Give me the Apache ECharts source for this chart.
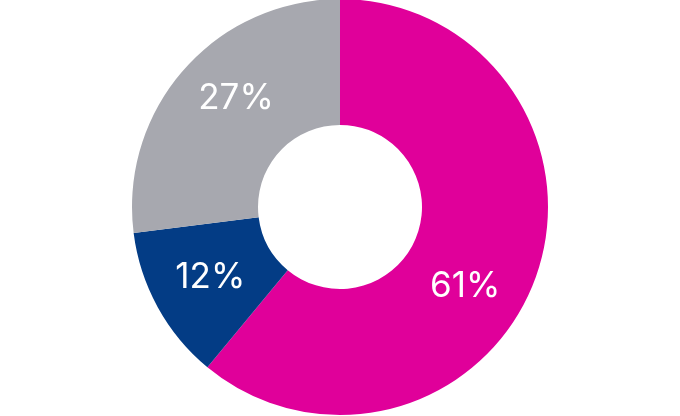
<!DOCTYPE html>
<html>
<head>
<meta charset="utf-8">
<script src="https://cdn.jsdelivr.net/npm/echarts@6/dist/echarts.min.js"></script>
<style>html,body{margin:0;padding:0;background:#fff;}#c{width:680px;height:416px;}</style>
</head>
<body>
<div id="c"></div>
<script>
const categories = ['A', 'B', 'C'];
const values = [61, 12, 27];
const colors = ['#E0009A', '#033C85', '#A7A8AF'];
const labelOffsets = [[-14, 29], [0, -1], [7, -11]];

const chart = echarts.init(document.getElementById('c'));
chart.setOption({
  animation: false,
  series: [{
    type: 'pie',
    center: [340, 207],
    radius: [82, 208],
    startAngle: 90,
    clockwise: true,
    avoidLabelOverlap: false,
    label: {
      show: true,
      position: 'inside',
      color: '#fff',
      fontFamily: 'Inter',
      fontSize: 35,
      fontWeight: 'normal',
      formatter: p => p.value + '%'
    },
    labelLine: { show: false },
    itemStyle: { borderWidth: 0 },
    data: categories.map((c, i) => ({
      name: c, value: values[i],
      itemStyle: { color: colors[i] },
      label: { offset: labelOffsets[i] }
    }))
  }]
});
</script>
</body>
</html>
